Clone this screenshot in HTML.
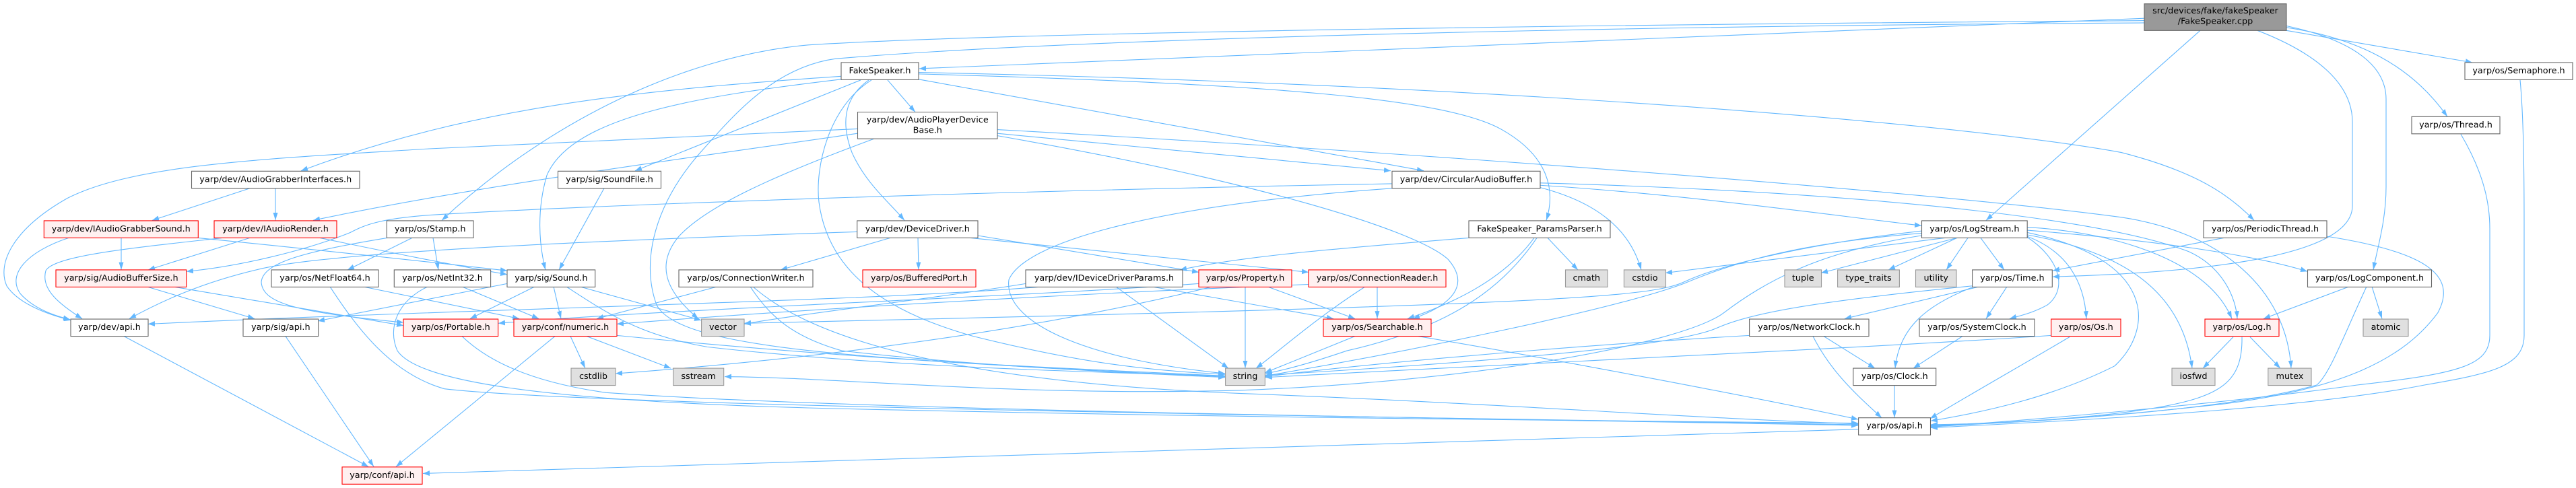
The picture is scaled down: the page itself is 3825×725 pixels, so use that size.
<!DOCTYPE html>
<html><head><meta charset="utf-8"><style>
html,body{margin:0;padding:0;background:#fff;}
svg{display:block;}
.e{fill:none;stroke:#63b8ff;stroke-width:1.1;vector-effect:non-scaling-stroke;}
.n{fill:#fff;stroke:#666;stroke-width:1.1;vector-effect:non-scaling-stroke;}
.r{fill:#fff0f0;stroke:#f00;stroke-width:1.1;vector-effect:non-scaling-stroke;}
.g{fill:#e0e0e0;stroke:#999;stroke-width:1.1;vector-effect:non-scaling-stroke;}
.o{fill:#999;stroke:#666;stroke-width:1.1;vector-effect:non-scaling-stroke;}
text{font-family:"DejaVu Sans","Liberation Sans",sans-serif;font-size:12.8px;text-anchor:middle;fill:#000;}
</style></head><body>
<svg width="3825" height="725" viewBox="0 0 3825 725" xmlns="http://www.w3.org/2000/svg">
<defs>
<marker id="a" viewBox="0 0 10 7" refX="10" refY="3.5" markerWidth="10" markerHeight="7" markerUnits="userSpaceOnUse" orient="auto">
<path d="M0,0 L10,3.5 L0,7 z" fill="#63b8ff"/>
</marker>
</defs>
<rect width="3825" height="725" fill="#fff"/>
<g transform="scale(1,1.1327)">
<g marker-end="url(#a)">
<!-- root -->
<path class="e" d="M3184,24 L1365,90"/>
<path class="e" d="M3184,27 C2400,32 1500,42 1200,59 C1000,75 800,170 656,289"/>
<path class="e" d="M3184,30 C2400,34 1600,50 1241,77 C1150,88 1090,150 1040,200 C975,265 950,340 975,400 C1010,460 1300,472 1819,493"/>
<path class="e" d="M3267,40 L2949,289"/>
<path class="e" d="M3352,40 C3440,70 3493,110 3493,160 L3493,270 C3493,340 3250,358 3048,363"/>
<path class="e" d="M3395,34 C3480,50 3543,80 3543,130 L3543,245 C3543,290 3530,325 3524,354"/>
<path class="e" d="M3395,36 C3500,50 3580,85 3634,153"/>
<path class="e" d="M3395,40 L3671,82"/>
<!-- FakeSpeaker.h -->
<path class="e" d="M1318,105 L1359,147"/>
<path class="e" d="M1249,100 C950,118 700,140 447,224"/>
<path class="e" d="M1278,105 L943,224"/>
<path class="e" d="M1249,104 C1050,125 850,150 812,230 C797,275 800,320 810,354"/>
<path class="e" d="M1290,105 C1250,130 1250,165 1265,200 C1285,240 1320,265 1343,289"/>
<path class="e" d="M1294,105 C1230,140 1210,220 1216,265 C1230,360 1320,410 1445,441 C1600,475 1700,486 1819,491"/>
<path class="e" d="M1364,95 C2200,110 2900,160 3150,200 C3260,225 3310,255 3347,289"/>
<path class="e" d="M1364,97 C1900,110 2150,130 2230,170 C2300,205 2310,250 2296,289"/>
<path class="e" d="M1364,104 L2114,224"/>
<!-- AudioPlayerDeviceBase -->
<path class="e" d="M1273,169 L640,195 C400,208 200,215 100,260 C20,300 -5,345 10,375 C25,395 60,410 105,420"/>
<path class="e" d="M1273,175 C1000,210 700,245 465,289"/>
<path class="e" d="M1298,182 C1150,230 1050,270 1008,310 C975,345 985,380 1037,418"/>
<path class="e" d="M1481,175 L2065,224"/>
<path class="e" d="M1481,170 C2200,205 2900,255 3150,285 C3300,305 3395,380 3402,483"/>
<path class="e" d="M1481,178 C1850,235 2100,300 2150,340 C2190,380 2140,405 2098,418"/>
<!-- AudioGrabberInterfaces -->
<path class="e" d="M371,247 L226,289"/>
<path class="e" d="M409,247 L409,289"/>
<!-- IAudioGrabberSound -->
<path class="e" d="M180,312 L180,354"/>
<path class="e" d="M102,312 C40,330 10,360 30,385 C50,405 80,414 104,419"/>
<path class="e" d="M294,312 C500,330 650,345 753,355"/>
<!-- IAudioRender -->
<path class="e" d="M371,312 L220,354"/>
<path class="e" d="M330,312 C200,325 80,335 68,355 C60,380 90,400 122,418"/>
<path class="e" d="M475,312 C600,335 700,352 753,360"/>
<!-- Stamp -->
<path class="e" d="M612,312 L516,354"/>
<path class="e" d="M643,312 L651,354"/>
<path class="e" d="M575,312 C450,330 390,345 388,370 C390,400 450,410 599,423"/>
<!-- AudioBufferSize -->
<path class="e" d="M218,376 L378,418"/>
<path class="e" d="M257,376 L599,427"/>
<!-- NetFloat64 -->
<path class="e" d="M539,376 L771,418"/>
<path class="e" d="M490,376 C530,430 580,490 660,510 C900,535 2300,550 2759,557"/>
<!-- NetInt32 -->
<path class="e" d="M686,376 L800,418"/>
<path class="e" d="M635,376 C590,395 575,430 590,460 C620,500 800,525 1200,535 C1800,548 2500,553 2759,555"/>
<!-- Sound -->
<path class="e" d="M794,376 L698,418"/>
<path class="e" d="M822,376 L833,418"/>
<path class="e" d="M861,376 L1041,420"/>
<path class="e" d="M841,376 C900,410 950,440 1050,455 C1300,480 1600,488 1819,493"/>
<path class="e" d="M753,372 L472,421"/>
<!-- SoundFile -->
<path class="e" d="M897,247 L830,354"/>
<!-- Portable -->
<path class="e" d="M686,441 C720,470 780,500 900,515 C1300,540 2300,550 2759,558"/>
<!-- numeric -->
<path class="e" d="M824,441 L588,612"/>
<path class="e" d="M847,441 L869,483"/>
<path class="e" d="M871,441 L996,483"/>
<path class="e" d="M916,440 C1200,465 1500,482 1819,494"/>
<!-- ConnectionWriter -->
<path class="e" d="M1065,376 L886,418"/>
<path class="e" d="M1114,376 C1140,410 1170,440 1250,460 C1450,480 1650,488 1819,495"/>
<path class="e" d="M1118,376 C1200,440 1400,500 1840,516 C2200,528 2500,548 2759,556"/>
<!-- DeviceDriver -->
<path class="e" d="M1273,304 C900,315 500,330 390,352 C300,370 240,395 192,418"/>
<path class="e" d="M1322,312 L1159,354"/>
<path class="e" d="M1363,312 L1364,354"/>
<path class="e" d="M1441,312 L1943,357"/>
<path class="e" d="M1452,309 L1780,357"/>
<!-- ParamsParser -->
<path class="e" d="M2181,312 C2000,325 1850,335 1752,354"/>
<path class="e" d="M2278,312 C2230,370 2150,400 2090,418"/>
<path class="e" d="M2282,312 C2230,380 2150,430 2000,460 C1950,475 1910,485 1879,490"/>
<path class="e" d="M2298,312 L2343,354"/>
<!-- CircularAudioBuffer -->
<path class="e" d="M2067,241 C1500,250 900,268 640,282 C560,287 540,296 520,305 C450,330 350,350 277,356"/>
<path class="e" d="M2067,247 C1700,270 1520,320 1498,367 C1490,420 1600,470 1819,490"/>
<path class="e" d="M2287,246 C2370,265 2420,300 2437,354"/>
<path class="e" d="M2287,243 C2500,255 2700,280 2853,296"/>
<path class="e" d="M2287,240 C2700,250 3100,280 3250,330 C3300,350 3320,390 3322,418"/>
<!-- IDeviceDriverParams -->
<path class="e" d="M1523,372 C1400,390 1200,410 1105,425"/>
<path class="e" d="M1657,376 L1824,483"/>
<path class="e" d="M1710,376 C1800,390 1900,405 1980,418"/>
<path class="e" d="M1547,376 C1300,395 700,405 220,425"/>
<!-- Property -->
<path class="e" d="M1882,376 L2012,418"/>
<path class="e" d="M1849,376 L1849,483"/>
<path class="e" d="M1780,372 C1500,390 1000,405 740,424"/>
<path class="e" d="M1800,376 C1600,420 1300,465 914,490"/>
<!-- ConnectionReader -->
<path class="e" d="M2045,376 L2045,418"/>
<path class="e" d="M2027,376 C1950,420 1900,460 1865,483"/>
<path class="e" d="M1943,373 C1600,385 1200,405 916,425"/>
<!-- Searchable -->
<path class="e" d="M2012,441 L1878,489"/>
<path class="e" d="M2106,441 C2300,470 2600,520 2759,550"/>
<!-- LogStream -->
<path class="e" d="M2888,312 L2473,358"/>
<path class="e" d="M2906,312 L2704,358"/>
<path class="e" d="M2906,312 L2804,354"/>
<path class="e" d="M2922,312 L2890,354"/>
<path class="e" d="M2941,312 L2976,354"/>
<path class="e" d="M2853,306 C2650,320 2560,350 2500,372 C2400,405 2100,460 1879,493"/>
<path class="e" d="M2853,303 C2700,318 2560,345 2500,370 C2450,390 2300,400 1105,424"/>
<path class="e" d="M2853,309 C2700,330 2620,370 2560,410 C2500,450 2200,500 1840,512 C1500,520 1250,495 1076,494"/>
<path class="e" d="M3010,305 C3200,340 3200,430 3140,480 C3050,520 2950,540 2867,552"/>
<path class="e" d="M3010,302 C3200,315 3350,335 3426,356"/>
<path class="e" d="M3010,298 C3150,305 3280,345 3314,418"/>
<path class="e" d="M3010,310 C3070,330 3095,370 3098,418"/>
<path class="e" d="M3010,308 C3150,330 3240,380 3255,483"/>
<path class="e" d="M3010,311 C3060,340 3070,380 3040,400 C3020,410 3000,414 2984,418"/>
<!-- Time -->
<path class="e" d="M2939,376 L2739,418"/>
<path class="e" d="M2931,376 C2860,400 2820,430 2814,483"/>
<path class="e" d="M2980,376 L2949,418"/>
<path class="e" d="M2929,375 C2700,395 2600,410 2550,430 C2500,450 2300,470 1879,492"/>
<!-- NetworkClock -->
<path class="e" d="M2708,441 L2784,483"/>
<path class="e" d="M2692,441 C2720,490 2760,520 2794,548"/>
<path class="e" d="M2598,440 C2300,455 2000,480 1879,494"/>
<!-- SystemClock -->
<path class="e" d="M2914,441 L2841,483"/>
<!-- Os -->
<path class="e" d="M3046,440 C2800,455 2300,475 1879,495"/>
<path class="e" d="M3073,442 C3000,480 2920,520 2866,549"/>
<!-- Clock -->
<path class="e" d="M2813,506 L2813,548"/>
<!-- os/api -->
<path class="e" d="M2760,563 L628,621"/>
<!-- Log -->
<path class="e" d="M3316,442 L3271,483"/>
<path class="e" d="M3341,442 L3386,483"/>
<path class="e" d="M3329,442 C3330,500 3300,520 3200,535 C3100,550 2950,556 2867,557"/>
<!-- LogComponent -->
<path class="e" d="M3488,376 L3361,418"/>
<path class="e" d="M3522,376 L3537,418"/>
<path class="e" d="M3514,376 C3480,440 3460,490 3440,505 C3300,540 3000,555 2867,558"/>
<!-- PeriodicThread -->
<path class="e" d="M3302,312 L3048,355"/>
<path class="e" d="M3455,310 C3600,330 3650,360 3620,410 C3570,470 3480,510 3300,530 C3100,550 2950,556 2867,559"/>
<!-- Thread -->
<path class="e" d="M3654,176 C3690,230 3697,270 3697,300 L3697,440 C3697,480 3650,490 3500,505 C3300,530 3000,552 2867,560"/>
<!-- Semaphore -->
<path class="e" d="M3742,105 C3748,160 3748,250 3748,300 L3748,440 C3748,480 3700,490 3600,505 C3400,540 3000,555 2867,561"/>
<!-- api -->
<path class="e" d="M184,441 L547,612"/>
<path class="e" d="M424,441 L555,612"/>
</g>

<!-- node boxes -->
<rect class="o" x="3184" y="5" width="211" height="35"/>
<rect class="n" x="1249" y="82" width="115" height="22.5"/>
<rect class="n" x="3660" y="82" width="160" height="22.5"/>
<rect class="n" x="1273.5" y="147" width="207.5" height="35"/>
<rect class="n" x="3581" y="153" width="131" height="22.5"/>
<rect class="n" x="284.5" y="224.5" width="249.5" height="22.5"/>
<rect class="n" x="828.5" y="224.5" width="153" height="22.5"/>
<rect class="n" x="2067" y="224.5" width="220" height="22.5"/>
<rect class="r" x="65.3" y="289.5" width="229" height="22.5"/>
<rect class="r" x="318" y="289.5" width="182" height="22.5"/>
<rect class="n" x="574.3" y="289.5" width="128.7" height="22.5"/>
<rect class="n" x="1272.7" y="289.5" width="179.3" height="22.5"/>
<rect class="n" x="2181" y="289.5" width="210" height="22.5"/>
<rect class="n" x="2853.5" y="289.5" width="156.7" height="22.5"/>
<rect class="n" x="3272" y="289.5" width="183" height="22.5"/>
<rect class="r" x="83" y="354" width="193.7" height="22.5"/>
<rect class="n" x="403" y="354" width="159" height="22.5"/>
<rect class="n" x="585.3" y="354" width="143.3" height="22.5"/>
<rect class="n" x="753" y="354" width="130.7" height="22.5"/>
<rect class="n" x="1008" y="354" width="199" height="22.5"/>
<rect class="r" x="1281" y="354" width="168" height="22.5"/>
<rect class="n" x="1523" y="354" width="233" height="22.5"/>
<rect class="r" x="1780" y="354" width="138" height="22.5"/>
<rect class="r" x="1943" y="354" width="204" height="22.5"/>
<rect class="g" x="2324.5" y="354" width="62.5" height="22.5"/>
<rect class="g" x="2411.4" y="354" width="62.1" height="22.5"/>
<rect class="g" x="2650" y="354" width="54.5" height="22.5"/>
<rect class="g" x="2728.6" y="354" width="91.8" height="22.5"/>
<rect class="g" x="2844.5" y="354" width="60.5" height="22.5"/>
<rect class="n" x="2928.6" y="354" width="118.7" height="22.5"/>
<rect class="n" x="3426.5" y="354" width="184" height="22.5"/>
<rect class="n" x="105" y="418.5" width="115" height="22.5"/>
<rect class="n" x="361" y="418.5" width="111.7" height="22.5"/>
<rect class="r" x="599" y="418.5" width="140.6" height="22.5"/>
<rect class="r" x="763" y="418.5" width="153" height="22.5"/>
<rect class="g" x="1041.6" y="418.5" width="63.4" height="22.5"/>
<rect class="r" x="1965" y="418.5" width="160" height="22.5"/>
<rect class="n" x="2597.6" y="418.5" width="177.4" height="22.5"/>
<rect class="n" x="2850" y="418.5" width="171" height="22.5"/>
<rect class="r" x="3045.7" y="418.5" width="103.3" height="22.5"/>
<rect class="r" x="3274" y="418.5" width="110" height="22.5"/>
<rect class="g" x="3509" y="418.5" width="67" height="22.5"/>
<rect class="g" x="848" y="483" width="66" height="22.5"/>
<rect class="g" x="999.6" y="483" width="75.1" height="22.5"/>
<rect class="g" x="1819.6" y="483" width="58.8" height="22.5"/>
<rect class="n" x="2751.8" y="483" width="122.9" height="22.5"/>
<rect class="g" x="3225" y="483" width="64" height="22.5"/>
<rect class="g" x="3367.8" y="483" width="64.2" height="22.5"/>
<rect class="n" x="2759.6" y="548" width="106.9" height="22.5"/>
<rect class="r" x="508" y="612.5" width="119" height="22.5"/>
</g>

<!-- labels -->
<text x="3289.5" y="20">src/devices/fake/fakeSpeaker</text>
<text x="3289.5" y="35.5">/FakeSpeaker.cpp</text>
<text x="1306.5" y="108.9">FakeSpeaker.h</text>
<text x="3740" y="108.9">yarp/os/Semaphore.h</text>
<text x="1377.25" y="182">yarp/dev/AudioPlayerDevice</text>
<text x="1377.25" y="197.5">Base.h</text>
<text x="3646.5" y="189.3">yarp/os/Thread.h</text>

<text x="409.25" y="270.3">yarp/dev/AudioGrabberInterfaces.h</text>
<text x="905" y="270.3">yarp/sig/SoundFile.h</text>
<text x="2177" y="270.3">yarp/dev/CircularAudioBuffer.h</text>

<text x="179.8" y="343.9">yarp/dev/IAudioGrabberSound.h</text>
<text x="409" y="343.9">yarp/dev/IAudioRender.h</text>
<text x="638.65" y="343.9">yarp/os/Stamp.h</text>
<text x="1362.35" y="343.9">yarp/dev/DeviceDriver.h</text>
<text x="2286" y="343.9">FakeSpeaker_ParamsParser.h</text>
<text x="2931.85" y="343.9">yarp/os/LogStream.h</text>
<text x="3363.5" y="343.9">yarp/os/PeriodicThread.h</text>

<text x="179.85" y="417">yarp/sig/AudioBufferSize.h</text>
<text x="482.5" y="417">yarp/os/NetFloat64.h</text>
<text x="656.95" y="417">yarp/os/NetInt32.h</text>
<text x="818.35" y="417">yarp/sig/Sound.h</text>
<text x="1107.5" y="417">yarp/os/ConnectionWriter.h</text>
<text x="1365" y="417">yarp/os/BufferedPort.h</text>
<text x="1639.5" y="417">yarp/dev/IDeviceDriverParams.h</text>
<text x="1849" y="417">yarp/os/Property.h</text>
<text x="2045" y="417">yarp/os/ConnectionReader.h</text>
<text x="2355.75" y="417">cmath</text>
<text x="2442.45" y="417">cstdio</text>
<text x="2677.25" y="417">tuple</text>
<text x="2774.5" y="417">type_traits</text>
<text x="2874.75" y="417">utility</text>
<text x="2987.95" y="417">yarp/os/Time.h</text>
<text x="3518.5" y="417">yarp/os/LogComponent.h</text>

<text x="162.5" y="490">yarp/dev/api.h</text>
<text x="416.85" y="490">yarp/sig/api.h</text>
<text x="669.3" y="490">yarp/os/Portable.h</text>
<text x="839.5" y="490">yarp/conf/numeric.h</text>
<text x="1073.3" y="490">vector</text>
<text x="2045" y="490">yarp/os/Searchable.h</text>
<text x="2686.3" y="490">yarp/os/NetworkClock.h</text>
<text x="2935.5" y="490">yarp/os/SystemClock.h</text>
<text x="3097.35" y="490">yarp/os/Os.h</text>
<text x="3329" y="490">yarp/os/Log.h</text>
<text x="3542.5" y="490">atomic</text>

<text x="881" y="563.1">cstdlib</text>
<text x="1037.15" y="563.1">sstream</text>
<text x="1849" y="563.1">string</text>
<text x="2813.25" y="563.1">yarp/os/Clock.h</text>
<text x="3257" y="563.1">iosfwd</text>
<text x="3399.9" y="563.1">mutex</text>

<text x="2813.05" y="636.7">yarp/os/api.h</text>
<text x="567.5" y="709.8">yarp/conf/api.h</text>
</svg>
</body></html>
